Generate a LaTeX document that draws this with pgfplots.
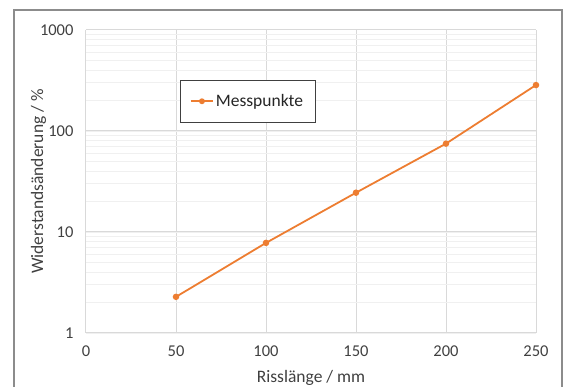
\documentclass[border=0pt]{standalone}
\usepackage{pgfplots}
\pgfplotsset{compat=1.18}
\usepackage{fontspec}
\setmainfont{Carlito}
\definecolor{xlorange}{HTML}{ED7D31}
\definecolor{majgrid}{HTML}{D9D9D9}
\definecolor{mingrid}{HTML}{F0F0F0}
\definecolor{ticktext}{HTML}{404040}
\begin{document}
\begin{tikzpicture}[x=1pt,y=1pt]
\path[use as bounding box] (0,0) rectangle (568,387);
\draw[black!45, line width=1.2pt] (14,-5) -- (14,377) -- (562,377) -- (562,-5);
\begin{axis}[
  at={(86pt,54pt)}, anchor=south west,
  scale only axis, width=450pt, height=303pt,
  ymode=log,
  xmin=0, xmax=250, ymin=1, ymax=1000,
  xtick={0,50,100,150,200,250},
  ytick={1,10,100,1000},
  yticklabels={1,10,100,1000},
  /pgf/number format/assume math mode=true,
  axis line style={draw=none},
  major tick length=0pt, minor tick length=0pt,
  xmajorgrids, ymajorgrids, yminorgrids,
  minor y tick num=8,
  major grid style={majgrid, line width=1pt},
  minor grid style={mingrid, line width=0.8pt},
  tick label style={font=\fontsize{16.5}{18}\selectfont, text=ticktext},
  xticklabel style={yshift=-9pt},
  yticklabel style={xshift=-9pt},
  xlabel={Risslänge / mm},
  ylabel={Widerstandsänderung / \%},
  label style={font=\fontsize{17.5}{19}\selectfont, text=ticktext},
  xlabel style={yshift=-7pt},
  ylabel style={yshift=-13pt},
  legend style={at={(rel axis cs:0.208,0.835)}, anchor=north west,
    draw=black!75, line width=0.9pt, inner xsep=10pt, inner ysep=12pt,
    font=\fontsize{17.5}{19}\selectfont, text=black!85},
  legend image code/.code={
    \draw[#1, line width=1.8pt] (0pt,0pt) -- (22pt,0pt);
    \fill[xlorange] (11pt,0pt) circle (2pt);
  },
  legend style={/tikz/every even column/.style={column sep=0pt}},
]
\addplot[xlorange, line width=1.8pt, mark=*, mark size=2.3pt, mark options={fill=xlorange, draw=xlorange}]
  coordinates {(50,2.28) (100,7.8) (150,24.5) (200,75) (250,285)};
\addlegendentry{Messpunkte}
\end{axis}
\end{tikzpicture}
\end{document}
